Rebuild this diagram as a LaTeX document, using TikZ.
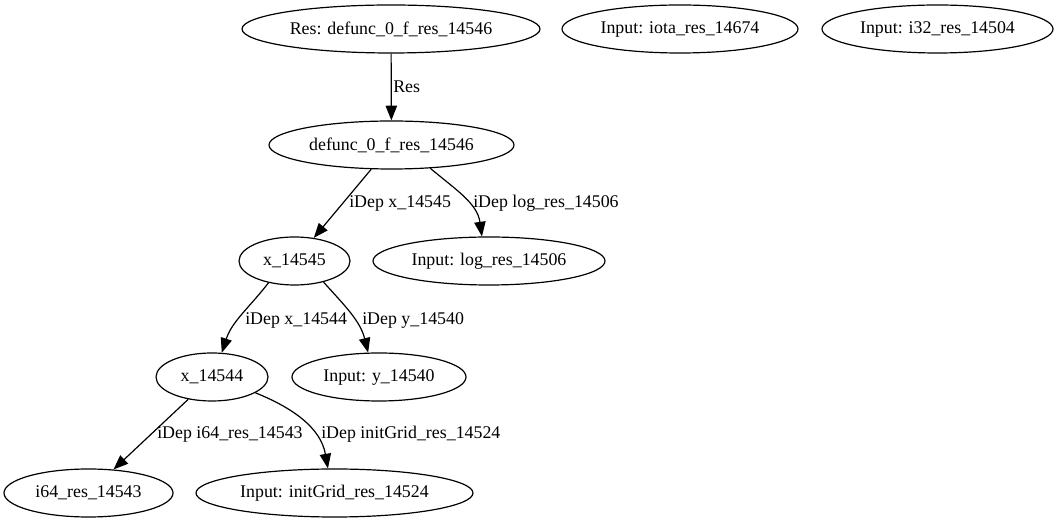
\documentclass[tikz,border=0pt]{standalone}
\usepackage{fontspec}
\setmainfont{Liberation Serif}
\usetikzlibrary{arrows.meta,shapes.geometric}
\tikzset{
    gvnode/.style={ellipse, draw, line width=0.9pt, inner sep=0pt, minimum height=36pt, minimum width=#1*0.75pt},
    gvedge/.style={line width=0.9pt, -{Triangle[length=11pt,width=8.5pt]}},
    gvlabel/.style={anchor=base west, inner sep=0pt}
}

\begin{document}
\begin{tikzpicture}[
    x=0.75pt, y=-0.75pt,
    font=\fontsize{13.4pt}{16pt}\selectfont
 ]
\def\rA{29}
\def\rB{145}
\def\rC{261}
\def\rD{377}
\def\rE{493}
    \useasboundingbox (0,0) rectangle (1058,523);

    \node[gvnode=298] (resTop) at (391,\rA) {Res: defunc\_0\_f\_res\_14546};
    \node[gvnode=236] (iota) at (680,\rA) {Input: iota\_res\_14674};
    \node[gvnode=231] (iThirtyTwo) at (937.5,\rA) {Input: i32\_res\_14504};
    \node[gvnode=245] (defunc) at (391.5,\rB) {defunc\_0\_f\_res\_14546};
    \node[gvnode=111] (xA) at (294.5,\rC) {x\_14545};
    \node[gvnode=232] (logRes) at (489,\rC) {Input: log\_res\_14506};
    \node[gvnode=112] (xB) at (212,\rD) {x\_14544};
    \node[gvnode=174] (yIn) at (379,\rD) {Input: y\_14540};
    \node[gvnode=169] (iSixtyFour) at (88.5,\rE) {i64\_res\_14543};
    \node[gvnode=277] (initGrid) at (334.5,\rE) {Input: initGrid\_res\_14524};

    \draw[gvedge] (resTop) -- (defunc);
    \draw[gvedge] (defunc) -- (xA);
    \draw[gvedge] (defunc.-31) to[out=-40, in=98] (logRes.106);
    \draw[gvedge] (xA.-140) to[out=-128, in=72] (xB.68);
    \draw[gvedge] (xA.-36) to[out=-48, in=104] (yIn.114);
    \draw[gvedge] (xB) -- (iSixtyFour);
    \draw[gvedge] (xB.-20) to[out=-22, in=100] (initGrid.105);

    \node[gvlabel] (lRes) at (393,93) {Res};
    \node[gvlabel] (lxA) at (349,208) {iDep x\_14545};
    \node[gvlabel] (lLog) at (473,208) {iDep log\_res\_14506};
    \node[gvlabel] (lxB) at (245,325) {iDep x\_14544};
    \node[gvlabel] (lY) at (362,325) {iDep y\_14540};
    \node[gvlabel] (lI) at (157,439) {iDep i64\_res\_14543};
    \node[gvlabel] (lInit) at (321,439) {iDep initGrid\_res\_14524};

\end{tikzpicture}
\end{document}
